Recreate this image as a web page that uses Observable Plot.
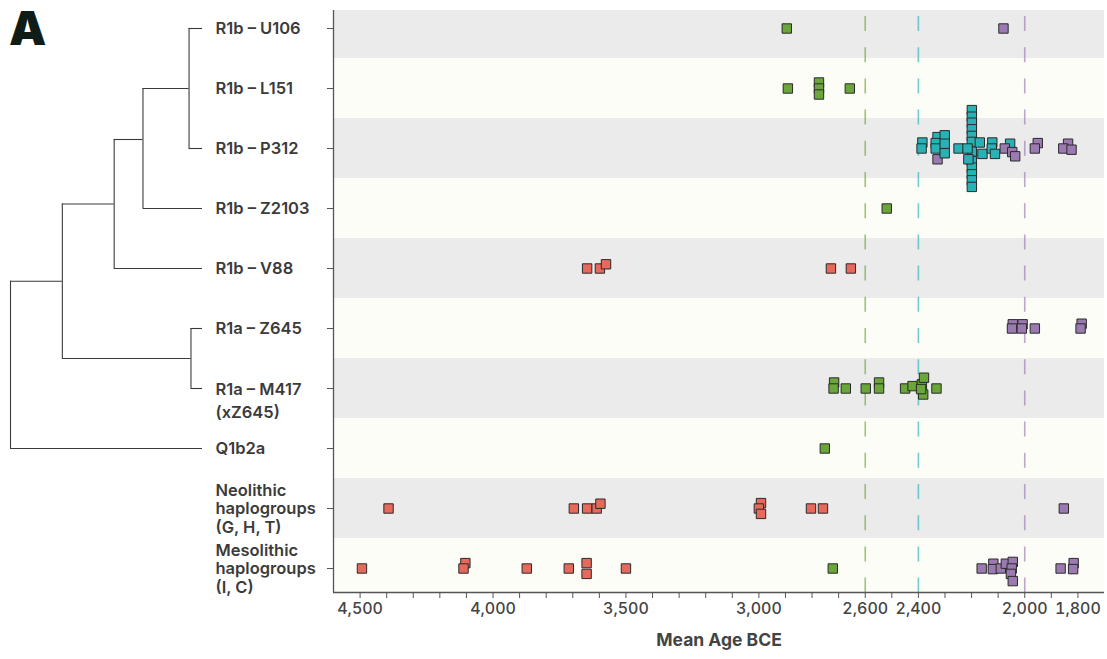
<!DOCTYPE html>
<html><head><meta charset="utf-8">
<script src="https://cdn.jsdelivr.net/npm/d3@7"></script>
<script src="https://cdn.jsdelivr.net/npm/@observablehq/plot@0.6"></script>
<style>
body{margin:0;background:#fff;font-family:Inter,"Noto Sans",sans-serif;}
#wrap{position:relative;width:1107px;height:659px;display:flex;}
#wrap svg{overflow:visible;}
#panel{position:absolute;left:9px;top:4px;font:900 47px/1 Inter,sans-serif;color:#0f1d16;}
</style></head><body>
<div id="wrap"><div id="tree"></div><div id="chart"></div><div id="panel">A</div></div>
<script>
// ---------- data ----------
const rowIds = ["U106","L151","P312","Z2103","V88","Z645","M417","Q1b2a","Neolithic","Mesolithic"];
const rowLabels = ["R1b – U106","R1b – L151","R1b – P312","R1b – Z2103","R1b – V88","R1a – Z645","R1a – M417","Q1b2a","Neolithic\nhaplogroups\n(G, H, T)","Mesolithic\nhaplogroups\n(I, C)"];
const rowSubLabels = ["","","","","","","(xZ645)","","",""];

const groups = ["Neolithic","Corded Ware","Bell Beaker","Early Bronze Age"];
const groupColors = ["#e7695c","#6aa63a","#29b2b6","#9a7ab0"];
const periodStarts = [2600, 2400, 2000];
const periodGroups = ["Corded Ware","Bell Beaker","Early Bronze Age"];

const majorTicks = [4500, 4000, 3500, 3000, 2600, 2400, 2000, 1800];
const minorTicks = d3.range(1800, 4501, 100);
const xDomain = [4600, 1700];

// [mean age BCE, group, vertical jitter in row units]
const u106 = [[2895,"Corded Ware",0],[2080,"Early Bronze Age",0]];
const l151 = [[2891,"Corded Ware",0],[2774,"Corded Ware",-0.1],[2774,"Corded Ware",0],[2774,"Corded Ware",0.1],[2658,"Corded Ware",0]];
const p312 = [
  [2385,"Bell Beaker",-0.1],[2388,"Bell Beaker",0],[2328,"Early Bronze Age",0.18],[2328,"Bell Beaker",-0.19],[2335,"Bell Beaker",-0.09],[2335,"Bell Beaker",0],
  [2301,"Bell Beaker",-0.22],[2301,"Bell Beaker",-0.08],[2301,"Bell Beaker",0.08],[2249,"Bell Beaker",0],
  [2199,"Bell Beaker",-0.64],[2199,"Bell Beaker",-0.53],[2199,"Bell Beaker",-0.43],[2199,"Bell Beaker",-0.32],[2199,"Bell Beaker",-0.21],[2199,"Bell Beaker",-0.11],
  [2199,"Bell Beaker",0.21],[2199,"Bell Beaker",0.32],[2199,"Bell Beaker",0.43],[2199,"Bell Beaker",0.53],[2199,"Bell Beaker",0.64],[2199,"Bell Beaker",0.05],
  [2215,"Bell Beaker",0],[2212,"Bell Beaker",0.18],
  [2169,"Bell Beaker",-0.1],[2159,"Bell Beaker",0.09],[2122,"Bell Beaker",-0.1],[2124,"Bell Beaker",0],[2112,"Bell Beaker",0.09],[2055,"Bell Beaker",-0.08],
  [2075,"Early Bronze Age",0],[2047,"Early Bronze Age",0.06],[2036,"Early Bronze Age",0.13],
  [1951,"Early Bronze Age",-0.09],[1962,"Early Bronze Age",0],[1837,"Early Bronze Age",-0.08],[1855,"Early Bronze Age",0],[1824,"Early Bronze Age",0.02]
];
const z2103 = [[2519,"Corded Ware",0]];
const v88 = [[3646,"Neolithic",0],[3598,"Neolithic",0],[3575,"Neolithic",-0.07],[2729,"Neolithic",0],[2654,"Neolithic",0]];
const z645 = [[2045,"Early Bronze Age",-0.07],[2008,"Early Bronze Age",-0.07],[2048,"Early Bronze Age",0],[2011,"Early Bronze Age",0],[1962,"Early Bronze Age",0],[1786,"Early Bronze Age",-0.08],[1790,"Early Bronze Age",0]];
const m417 = [[2717,"Corded Ware",-0.1],[2719,"Corded Ware",0],[2673,"Corded Ware",0],[2598,"Corded Ware",0],[2548,"Corded Ware",-0.1],[2548,"Corded Ware",0],
  [2450,"Corded Ware",0],[2422,"Corded Ware",-0.04],[2387,"Corded Ware",-0.07],[2379,"Corded Ware",-0.18],[2382,"Corded Ware",0.1],[2390,"Corded Ware",0.01],[2332,"Corded Ware",0]];
const q1b2a = [[2752,"Corded Ware",0]];
const neolithic = [[4393,"Neolithic",0],[3696,"Neolithic",0],[3646,"Neolithic",0],[3610,"Neolithic",0],[3596,"Neolithic",-0.08],
  [2992,"Neolithic",-0.09],[3000,"Neolithic",0],[2992,"Neolithic",0.09],[2804,"Neolithic",0],[2759,"Neolithic",0],[1853,"Early Bronze Age",0]];
const mesolithic = [[4493,"Neolithic",0],[4104,"Neolithic",-0.09],[4111,"Neolithic",0],[3873,"Neolithic",0],[3715,"Neolithic",0],[3648,"Neolithic",-0.09],[3648,"Neolithic",0.09],[3500,"Neolithic",0],
  [2722,"Corded Ware",0],
  [2162,"Early Bronze Age",0],[2118,"Early Bronze Age",-0.08],[2120,"Early Bronze Age",0.01],[2090,"Early Bronze Age",0],[2071,"Early Bronze Age",-0.08],
  [2045,"Early Bronze Age",-0.11],[2049,"Early Bronze Age",0],[2052,"Early Bronze Age",0.09],[2045,"Early Bronze Age",0.21],
  [1865,"Early Bronze Age",0],[1816,"Early Bronze Age",-0.09],[1818,"Early Bronze Age",0.01]];
const rowSamples = [u106,l151,p312,z2103,v88,z645,m417,q1b2a,neolithic,mesolithic];

// tree: [node, parent, branch depth (0 = root, 1 = tips), optional row position]
const treeNodes = [
  ["root",null,0],["n1","root",0.27],["n2","n1",0.54],["n3","n2",0.69,1.85],
  ["L151","n3",0.93],["U106","L151",1],["P312","L151",1],["Z2103","n3",1],["V88","n2",1],
  ["R1a","n1",0.94],["Z645","R1a",1],["M417","R1a",1],["Q1b2a","root",1]
];

// ---------- build ----------
const H = 659, MT = 10, MB = 67;
const yDomain = [9.4, -0.3];
const rowIdx = rowIds.map((_, i) => i);

const points = rowSamples.flatMap((arr, i) => arr.map(([year, group, j]) => ({year, group, row: i, y: i + j})));

// tree geometry
const depth = new Map(treeNodes.map(([id,,d]) => [id, d]));
const fixedY = new Map(treeNodes.filter(n => n[3] != null).map(n => [n[0], n[3]]));
const children = d3.group(treeNodes.filter(n => n[1]), n => n[1]);
const yPos = new Map();
function nodeY(id) {
  if (yPos.has(id)) return yPos.get(id);
  const kids = children.get(id);
  let y;
  if (fixedY.has(id)) { if (kids) kids.forEach(k => nodeY(k[0])); y = fixedY.get(id); }
  else if (kids) { const ys = kids.map(k => nodeY(k[0])); y = (d3.min(ys) + d3.max(ys)) / 2; }
  else y = rowIds.indexOf(id);
  yPos.set(id, y); return y;
}
treeNodes.forEach(n => nodeY(n[0]));
const hEdges = treeNodes.filter(n => n[1]).map(([id, p]) => ({y: yPos.get(id), x1: depth.get(p), x2: depth.get(id)}));
const vEdges = [...children].map(([id, kids]) => {const ys = kids.map(k => yPos.get(k[0])); return {x: depth.get(id), y1: d3.min(ys), y2: d3.max(ys)};});

const tree = Plot.plot({
  width: 205, height: H, marginTop: MT, marginBottom: MB, marginLeft: 10, marginRight: 3,
  x: {domain: [0, 1], axis: null}, y: {domain: yDomain, axis: null},
  marks: [
    Plot.ruleY(hEdges, {y: "y", x1: "x1", x2: "x2", stroke: "#3a3a3a", strokeWidth: 1.1}),
    Plot.ruleX(vEdges, {x: "x", y1: "y1", y2: "y2", stroke: "#3a3a3a", strokeWidth: 1.1})
  ]
});
document.getElementById("tree").append(tree);

const labelData = rowIdx.map(i => ({row: i, label: rowLabels[i], sub: rowSubLabels[i]}));
const periods = periodStarts.map((x, i) => ({x, group: periodGroups[i]}));

const chart = Plot.plot({
  width: 902, height: H, marginTop: MT, marginBottom: MB, marginLeft: 128, marginRight: 3,
  style: {fontFamily: "Inter, 'Noto Sans', sans-serif", color: "#444"},
  x: {domain: xDomain, label: null},
  y: {domain: yDomain, axis: null},
  color: {domain: groups, range: groupColors},
  marks: [
    Plot.rect(rowIdx.filter(i => i % 2 === 0), {x1: xDomain[0], x2: xDomain[1], y1: d => d - 0.5, y2: d => d + 0.5, fill: "#ebebeb", clip: true}),
    Plot.rect(rowIdx.filter(i => i % 2 === 1), {x1: xDomain[0], x2: xDomain[1], y1: d => d - 0.5, y2: d => d + 0.5, fill: "#fcfdf6", clip: true}),
    Plot.ruleX(periods, {x: "x", stroke: "group", strokeOpacity: 0.65, strokeWidth: 1.6, strokeDasharray: "15,16.2", strokeDashoffset: 25.2}),
    Plot.dot(points, {x: "year", y: "y", fill: "group", symbol: "square", r: 5.3, stroke: "#2a2a2a", strokeWidth: 1}),
    Plot.ruleX([xDomain[0]], {stroke: "#555", strokeWidth: 1.3}),
    Plot.ruleY([yDomain[0]], {stroke: "#555", strokeWidth: 1.3}),
    Plot.axisY(rowIdx, {anchor: "left", tickSize: 6, tickFormat: () => "", label: null, stroke: "#555"}),
    Plot.axisX(minorTicks, {tickSize: 6, tickFormat: () => "", label: null, stroke: "#555"}),
    Plot.axisX(majorTicks, {tickSize: 0, tickPadding: 10, tickFormat: d3.format(","), label: null, fontSize: 16, fontWeight: 500, fill: "#444", letterSpacing: "-0.3px"}),
    Plot.text(["Mean Age BCE"], {frameAnchor: "bottom", dy: 53, fontSize: 17.5, fontWeight: 700, fill: "#444", letterSpacing: "-0.2px"}),
    Plot.text(labelData, {y: "row", text: d => d.label, frameAnchor: "left", dx: -118, textAnchor: "start",
      lineAnchor: "middle", fontSize: 16.5, fontWeight: 600, fill: "#3b3b3b", lineHeight: 1.13,
      filter: d => !d.sub}),
    Plot.text(labelData, {y: "row", text: d => d.label + "\n" + d.sub, frameAnchor: "left", dx: -118, dy: -10, textAnchor: "start",
      lineAnchor: "top", fontSize: 16.5, fontWeight: 600, fill: "#3b3b3b", lineHeight: 1.4,
      filter: d => d.sub})
  ]
});
document.getElementById("chart").append(chart);
</script>
</body></html>
